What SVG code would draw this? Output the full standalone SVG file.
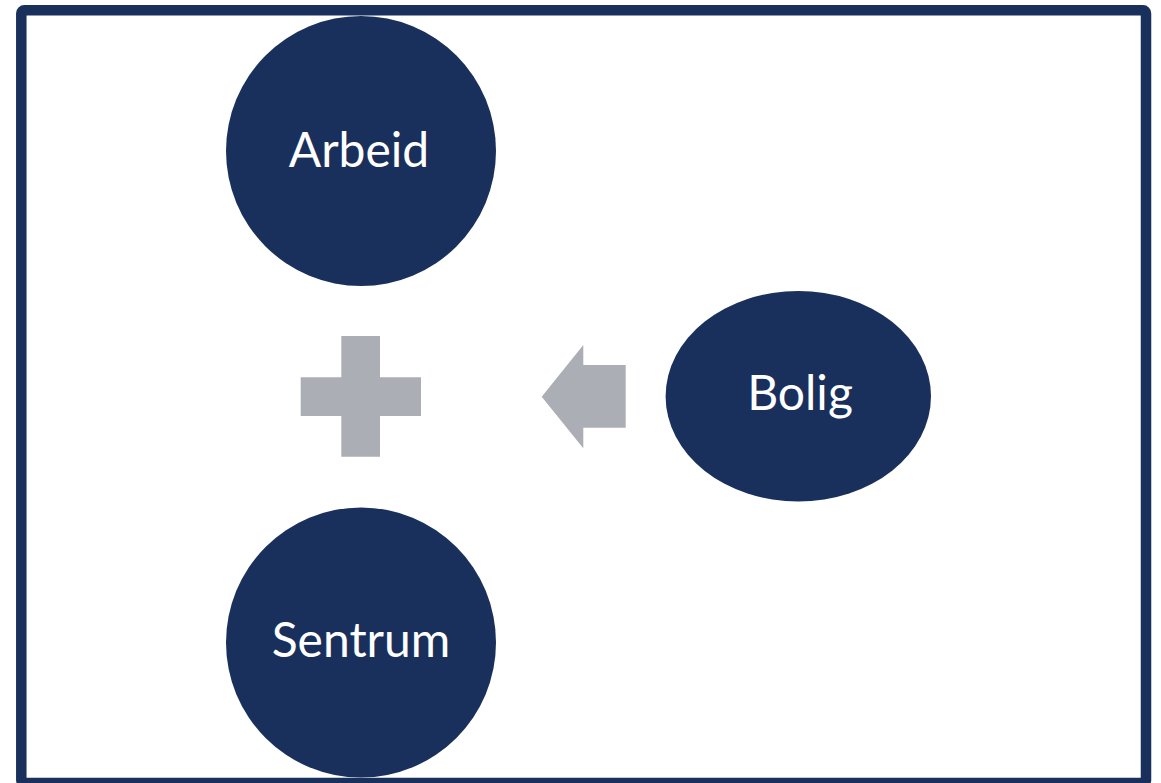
<svg xmlns="http://www.w3.org/2000/svg" width="1161" height="783" viewBox="0 0 1161 783">
<style>
.node{fill:#1a305c}
.lbl{fill:#ffffff;font-family:Lato,"Open Sans","Liberation Sans",sans-serif;font-size:48px;text-anchor:middle}
.sym{fill:#abaeb5}
</style>
<rect x="0" y="0" width="1161" height="783" fill="#ffffff"/>
<rect id="frame" x="21.3" y="10.3" width="1124.7" height="772.7" rx="3" fill="none" stroke="#1a305c" stroke-width="10.5"/>
<g id="arbeid">
<circle class="node" cx="361" cy="151" r="135"/>
<text class="lbl" x="359" y="166.5">Arbeid</text>
</g>
<g id="sentrum">
<circle class="node" cx="361" cy="642.5" r="135"/>
<text class="lbl" x="361" y="656.5">Sentrum</text>
</g>
<g id="bolig">
<ellipse class="node" cx="798.3" cy="396.3" rx="132.7" ry="105.3"/>
<text class="lbl" x="800" y="409.5">Bolig</text>
</g>
<g id="connectors">
<path id="plus" class="sym" d="M341.3,336 H380 V377.3 H421 V416 H380 V456.7 H341.3 V416 H300.7 V377.3 H341.3 Z"/>
<path id="arrow" class="sym" d="M541.7,396.7 L583.3,345 V365 H625.7 V427.7 H583.3 V448.3 Z"/>
</g>
</svg>
